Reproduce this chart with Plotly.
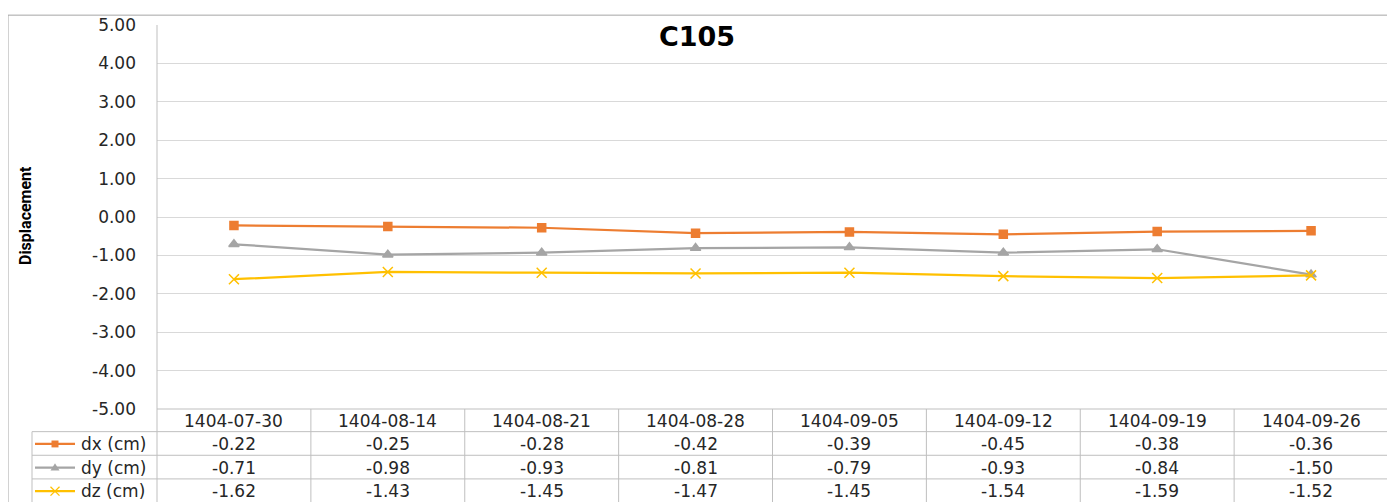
import plotly.graph_objects as go

dates = ["1404-07-30", "1404-08-14", "1404-08-21", "1404-08-28",
         "1404-09-05", "1404-09-12", "1404-09-19", "1404-09-26"]
dx = [-0.22, -0.25, -0.28, -0.42, -0.39, -0.45, -0.38, -0.36]
dy = [-0.71, -0.98, -0.93, -0.81, -0.79, -0.93, -0.84, -1.50]
dz = [-1.62, -1.43, -1.45, -1.47, -1.45, -1.54, -1.59, -1.52]
series_names = ["dx (cm)", "dy (cm)", "dz (cm)"]
series_vals = [dx, dy, dz]
y_ticks = [5, 4, 3, 2, 1, 0, -1, -2, -3, -4, -5]
y_tick_labels = ["5.00", "4.00", "3.00", "2.00", "1.00", "0.00",
                 "-1.00", "-2.00", "-3.00", "-4.00", "-5.00"]
colors = ["#ED7D31", "#A5A5A5", "#FFC000"]
symbols = ["square", "triangle-up", "x-thin"]
msizes = [8, 9, 10]

# page offset: the html body has an 8px margin
OFF = 8
W, H = 1395 - OFF, 502 - OFF
# pixel positions below are page pixels
L, R, T, B = 157, 1388, 19, 409
FONT = "DejaVu Sans, Verdana, sans-serif"


def px(p):
    return (p - L) / (R - L)


def py(p):
    return (B - p) / (B - T)


idx = list(range(len(dates)))
fig = go.Figure()
for name, vals, c, s, ms in zip(series_names, series_vals, colors, symbols, msizes):
    fig.add_trace(go.Scatter(
        x=idx, y=vals, mode="lines+markers", name=name,
        line=dict(color=c, width=2.25),
        marker=dict(symbol=s, size=ms, color=c, line=dict(color=c, width=1.5)),
        showlegend=False, cliponaxis=False,
    ))

row_lines = [409, 432, 456, 480, 504]
key_x0, key_x1, key_xm = 35, 75, 55
gray = "#bfbfbf"
shapes = []


def hline(y, x0, x1, color=gray, w=1):
    shapes.append(dict(type="line", xref="paper", yref="paper",
                       x0=px(x0), x1=px(x1), y0=py(y), y1=py(y),
                       line=dict(color=color, width=w)))


def vline(x, y0, y1, color=gray, w=1):
    shapes.append(dict(type="line", xref="paper", yref="paper",
                       x0=px(x), x1=px(x), y0=py(y0), y1=py(y1),
                       line=dict(color=color, width=w)))


border = "#a6a6a6"
hline(9, 8, R, border)
vline(8, 9, 510, border)
vline(R, 9, 510, border)
vline(L, T, 510)
hline(409, L, R)
for y in row_lines[1:]:
    hline(y, 32, R)
vline(32, 432, 510)
for i in range(len(dates) - 1):
    shapes.append(dict(type="line", xref="x", yref="paper",
                       x0=i + 0.5, x1=i + 0.5, y0=py(409), y1=py(510),
                       line=dict(color=gray, width=1)))

TXT = "#262626"
annotations = []
for i, d in enumerate(dates):
    annotations.append(dict(x=i, y=py(421), xref="x", yref="paper", text=d,
                            showarrow=False, font=dict(family=FONT, size=17, color=TXT),
                            xanchor="center", yanchor="middle"))
centers = [444.5, 468.5, 492.5]
for r, (name, vals, c) in enumerate(zip(series_names, series_vals, colors)):
    yc = centers[r]
    for i, v in enumerate(vals):
        annotations.append(dict(x=i, y=py(yc), xref="x", yref="paper", text=f"{v:.2f}",
                                showarrow=False, font=dict(family=FONT, size=17, color=TXT),
                                xanchor="center", yanchor="middle"))
    annotations.append(dict(x=px(79), y=py(yc), xref="paper", yref="paper", text=name,
                            showarrow=False, font=dict(family=FONT, size=17, color=TXT),
                            xanchor="left", yanchor="middle"))
    hline(yc, key_x0, key_x1, c, 2.25)

# legend key markers drawn as small shapes
s = 3.5
c0, c1, c2 = colors
yc = centers[0]
shapes.append(dict(type="rect", xref="paper", yref="paper",
                   x0=px(key_xm - s), x1=px(key_xm + s), y0=py(yc + s), y1=py(yc - s),
                   fillcolor=c0, line=dict(color=c0, width=0)))
yc = centers[1]
shapes.append(dict(type="path", xref="paper", yref="paper",
                   path=f"M {px(key_xm - 4.5)} {py(yc + 3)} L {px(key_xm + 4.5)} {py(yc + 3)} "
                        f"L {px(key_xm)} {py(yc - 4.5)} Z",
                   fillcolor=c1, line=dict(color=c1, width=0)))
yc = centers[2]
shapes.append(dict(type="line", xref="paper", yref="paper",
                   x0=px(key_xm - 4.5), x1=px(key_xm + 4.5), y0=py(yc - 4.5), y1=py(yc + 4.5),
                   line=dict(color=c2, width=1.3)))
shapes.append(dict(type="line", xref="paper", yref="paper",
                   x0=px(key_xm - 4.5), x1=px(key_xm + 4.5), y0=py(yc + 4.5), y1=py(yc - 4.5),
                   line=dict(color=c2, width=1.3)))

annotations.append(dict(x=px(25), y=py(213), xref="paper", yref="paper",
                        text="<b>Displacement</b>", textangle=-90, showarrow=False,
                        font=dict(family="Liberation Sans Narrow, Arial Narrow, Roboto, sans-serif",
                                  size=16, color="#000000"),
                        xanchor="center", yanchor="middle"))

fig.update_layout(
    width=W, height=H,
    margin=dict(l=L - OFF, r=1395 - R, t=T - OFF, b=502 - B, pad=0),
    paper_bgcolor="white", plot_bgcolor="white",
    title=dict(text="<b>C105</b>", x=(697 - OFF) / W, xref="container", xanchor="center",
               y=1 - (37 - OFF) / H, yref="container", yanchor="middle",
               font=dict(family=FONT, size=27, color="#000000")),
    xaxis=dict(range=[-0.5, len(dates) - 0.5], showticklabels=False, showgrid=False,
               zeroline=False, showline=False, ticks=""),
    yaxis=dict(range=[-5, 5], tickvals=y_ticks, ticktext=y_tick_labels, showgrid=True,
               gridcolor="#d9d9d9", gridwidth=1, zeroline=False, showline=False,
               ticks="", ticklabelstandoff=20,
               tickfont=dict(family=FONT, size=17, color=TXT)),
    shapes=shapes, annotations=annotations, showlegend=False,
)

fig.write_html("out.html")
